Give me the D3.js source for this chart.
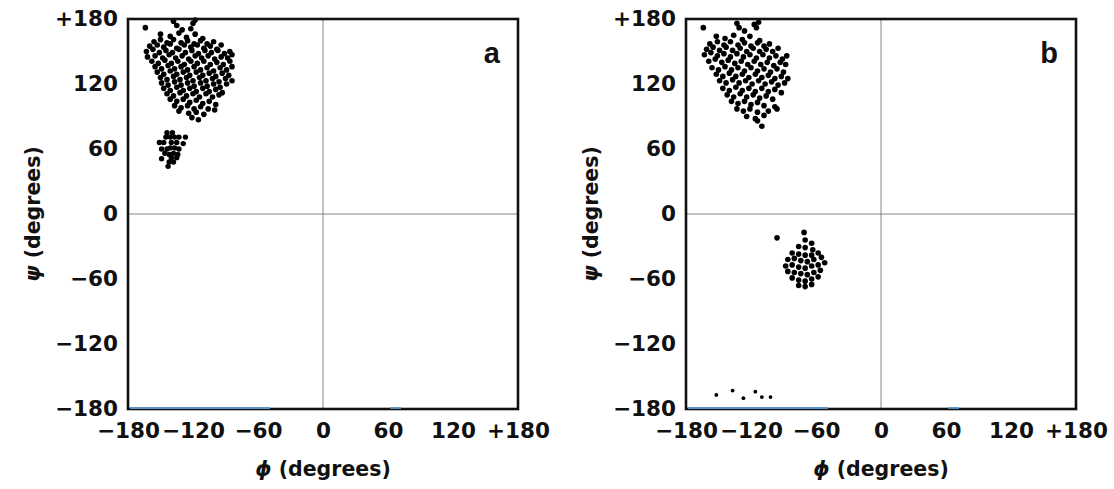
<!DOCTYPE html>
<html>
<head>
<meta charset="utf-8">
<script src="https://cdn.jsdelivr.net/npm/d3@7"></script>
<style>
  body { margin: 0; background: #fff; }
  svg { display: block; }
</style>
</head>
<body>
<svg id="rama" width="1114" height="489"></svg>
<script>
// tick values shared by both axes
var ticks = [-180, -120, -60, 0, 60, 120, 180];

// panel a: beta region
var betaA = [
  [-164,172],[-138,178],[-135,174],[-130,170],[-120,176],[-118,179],[-122,171],
  [-150,166],[-141,164],[-133,167],[-126,163],[-118,166],[-111,162],
  [-156,159],[-150,161],[-144,158],[-138,161],[-131,158],[-125,160],[-119,157],[-113,160],[-107,157],[-101,159],
  [-160,155],[-153,156],[-147,154],[-141,157],[-135,153],[-128,156],[-122,154],[-116,156],[-110,153],[-104,155],[-98,152],[-94,156],
  [-163,150],[-157,152],[-151,149],[-145,151],[-139,149],[-133,152],[-127,149],[-121,151],[-115,148],[-109,151],[-103,149],[-97,151],[-91,148],[-86,150],
  [-162,145],[-155,146],[-148,144],[-142,147],[-136,144],[-130,146],[-124,143],[-118,146],[-112,144],[-106,146],[-100,143],[-94,145],[-88,144],[-84,147],
  [-158,141],[-152,139],[-146,142],[-140,139],[-134,141],[-128,138],[-122,141],[-116,139],[-110,141],[-104,138],[-98,140],[-92,138],[-86,141],
  [-155,136],[-149,134],[-143,137],[-137,134],[-131,136],[-125,133],[-119,136],[-113,133],[-107,135],[-101,132],[-95,135],[-89,133],[-84,136],
  [-153,131],[-147,129],[-141,132],[-135,129],[-129,131],[-123,128],[-117,131],[-111,128],[-105,130],[-99,127],[-93,130],[-87,128],
  [-150,126],[-144,124],[-138,127],[-132,124],[-126,126],[-120,123],[-114,126],[-108,123],[-102,125],[-96,122],[-90,125],[-84,123],
  [-149,121],[-143,119],[-137,122],[-131,119],[-125,121],[-119,118],[-113,121],[-107,118],[-101,120],[-95,117],[-89,120],
  [-147,116],[-141,114],[-135,117],[-129,114],[-123,116],[-117,113],[-111,116],[-105,113],[-99,115],[-93,112],
  [-144,111],[-138,109],[-132,112],[-126,109],[-120,111],[-114,108],[-108,111],[-102,108],[-96,110],
  [-141,106],[-135,104],[-129,106],[-123,103],[-117,105],[-111,102],[-105,104],[-99,101],
  [-137,100],[-131,98],[-125,100],[-119,97],[-113,99],[-106,97],
  [-133,95],[-124,93],[-117,94],[-110,92],[-100,96],
  [-121,89],[-115,87]
];

// panel a: small cluster near psi 60
var lowA = [
  [-144,75],[-139,75],[-145,71],[-141,71],[-137,71],[-133,71],[-127,71],
  [-151,66],[-147,66],[-140,66],[-135,66],[-129,65],
  [-149,60],[-144,60],[-141,61],[-137,61],[-133,60],
  [-146,56],[-142,55],[-138,56],[-134,55],
  [-149,51],[-140,52],[-135,52],
  [-142,48],[-138,48],[-143,44]
];

// panel b: beta region
var betaB = [
  [-164,172],[-133,176],[-131,172],[-126,169],[-117,175],[-113,177],[-115,172],
  [-152,164],[-144,162],[-136,165],[-128,161],[-121,164],[-112,160],
  [-158,157],[-151,159],[-145,156],[-139,159],[-132,156],[-126,158],[-120,155],[-114,158],[-108,155],[-103,157],
  [-161,152],[-155,154],[-149,151],[-143,154],[-137,151],[-130,153],[-124,150],[-118,153],[-112,150],[-106,152],[-100,150],[-95,153],
  [-163,147],[-157,149],[-151,146],[-145,148],[-139,145],[-133,148],[-127,145],[-121,147],[-115,144],[-109,147],[-103,144],[-97,146],[-91,143],[-87,146],
  [-159,141],[-153,143],[-147,140],[-141,142],[-135,139],[-129,141],[-123,138],[-117,141],[-111,138],[-105,140],[-99,137],[-93,140],[-88,138],
  [-156,135],[-150,133],[-144,136],[-138,133],[-132,135],[-126,132],[-120,135],[-114,132],[-108,134],[-102,131],[-96,134],[-90,131],
  [-152,129],[-146,127],[-140,130],[-134,127],[-128,129],[-122,126],[-116,129],[-110,126],[-104,128],[-98,125],[-92,127],[-86,125],
  [-149,123],[-143,121],[-137,124],[-131,121],[-125,123],[-119,120],[-113,123],[-107,120],[-101,122],[-95,119],[-89,121],
  [-146,116],[-140,114],[-134,117],[-128,114],[-122,116],[-116,113],[-110,116],[-104,113],[-98,115],[-92,112],
  [-142,110],[-136,108],[-130,111],[-124,108],[-118,110],[-112,107],[-106,109],[-100,106],
  [-138,104],[-132,102],[-126,104],[-120,101],[-114,103],[-108,100],[-98,99],
  [-133,97],[-127,95],[-121,97],[-114,94],[-104,95],[-96,97],
  [-124,90],[-116,88],[-108,91],
  [-114,86],[-110,81]
];

// panel b: helix region
var helixB = [
  [-96,-22],[-71,-17],
  [-70,-24],[-64,-27],
  [-76,-30],[-70,-31],[-63,-33],
  [-82,-36],[-76,-37],[-70,-38],[-64,-38],[-58,-36],
  [-86,-42],[-80,-41],[-74,-43],[-68,-44],[-62,-42],[-55,-40],
  [-88,-48],[-82,-47],[-76,-49],[-70,-50],[-64,-48],[-58,-47],[-52,-45],
  [-86,-53],[-80,-54],[-74,-55],[-68,-56],[-62,-54],[-56,-52],
  [-82,-59],[-76,-61],[-70,-62],[-64,-60],[-58,-58],
  [-76,-66],[-70,-67],[-64,-65]
];

// panel b: few points at the bottom edge
var edgeB = [
  [-152,-167],[-137,-163],[-127,-170],[-116,-164],[-110,-169],[-102,-169]
];

// faint blue segments on the bottom edge (phi ranges)
var blueSegs = [[-178,-49],[62,72]];

var svg = d3.select("svg#rama"),
    size = 390,
    marginTop = 19;

var x = d3.scaleLinear().domain([-180, 180]).range([0, size]);
var y = d3.scaleLinear().domain([-180, 180]).range([size, 0]);

var fmt = function(d) {
  if (d === 180) return "+180";
  if (d < 0) return "\u2212" + Math.abs(d);
  return "" + d;
};

var font = "'DejaVu Sans', sans-serif";

function drawPanel(left, sets, label) {
  var g = svg.append("g").attr("transform", "translate(" + left + "," + marginTop + ")");

  // zero lines
  g.append("line")
      .attr("x1", 0).attr("x2", size)
      .attr("y1", y(0)).attr("y2", y(0))
      .attr("stroke", "#777").attr("stroke-width", 0.9);
  g.append("line")
      .attr("x1", x(0)).attr("x2", x(0))
      .attr("y1", 0).attr("y2", size)
      .attr("stroke", "#777").attr("stroke-width", 0.9);

  sets.forEach(function(s) {
    g.append("g").selectAll("circle")
      .data(s.pts)
      .enter().append("circle")
        .attr("cx", function(d) { return x(d[0]); })
        .attr("cy", function(d) { return y(d[1]); })
        .attr("r", s.r)
        .attr("fill", "#000");
  });

  // frame
  g.append("rect")
      .attr("width", size).attr("height", size)
      .attr("fill", "none")
      .attr("stroke", "#111").attr("stroke-width", 2.6);

  // blue traces lying on the bottom border
  g.selectAll(".blue")
    .data(blueSegs)
    .enter().append("line")
      .attr("class", "blue")
      .attr("x1", function(d) { return x(d[0]); })
      .attr("x2", function(d) { return x(d[1]); })
      .attr("y1", size - 1).attr("y2", size - 1)
      .attr("stroke", "#5b93c8").attr("stroke-width", 1.8);

  var ax = g.append("g")
      .call(d3.axisLeft(y).tickValues(ticks).tickFormat(fmt).tickSize(0).tickPadding(10));
  ax.select(".domain").remove();

  var bx = g.append("g")
      .attr("transform", "translate(0," + size + ")")
      .call(d3.axisBottom(x).tickValues(ticks).tickFormat(fmt).tickSize(0).tickPadding(14));
  bx.select(".domain").remove();

  g.selectAll(".tick text")
      .attr("font-family", font)
      .attr("font-weight", "bold")
      .attr("font-size", 21.5)
      .attr("fill", "#111");

  g.append("text")
      .attr("x", x(0))
      .attr("y", size + 67)
      .attr("text-anchor", "middle")
      .attr("font-family", font)
      .attr("font-weight", "bold")
      .attr("font-size", 20.5)
      .attr("fill", "#111")
      .html("<tspan font-style='italic'>\u03d5</tspan> (degrees)");

  g.append("text")
      .attr("transform", "translate(" + (-88) + "," + y(0) + ") rotate(-90)")
      .attr("text-anchor", "middle")
      .attr("font-family", font)
      .attr("font-weight", "bold")
      .attr("font-size", 20.5)
      .attr("fill", "#111")
      .html("<tspan font-style='italic'>\u03c8</tspan> (degrees)");

  g.append("text")
      .attr("x", size - 18)
      .attr("y", 44)
      .attr("text-anchor", "end")
      .attr("font-family", "'Liberation Sans', Arial, sans-serif")
      .attr("font-weight", "bold")
      .attr("font-size", 29)
      .attr("fill", "#111")
      .text(label);
}

drawPanel(128, [{pts: betaA, r: 2.8}, {pts: lowA, r: 2.7}], "a");
drawPanel(686, [{pts: betaB, r: 2.8}, {pts: helixB, r: 2.8}, {pts: edgeB, r: 1.9}], "b");
</script>
</body>
</html>
